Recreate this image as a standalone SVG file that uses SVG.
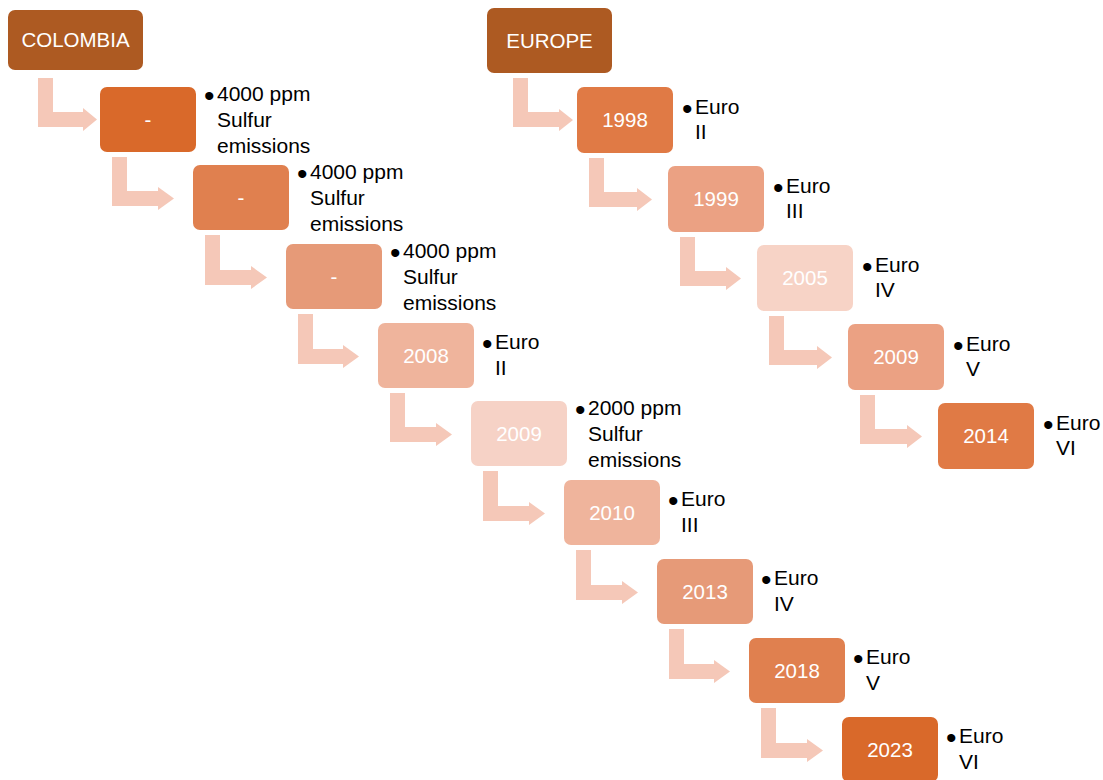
<svg xmlns="http://www.w3.org/2000/svg" width="1103" height="780" viewBox="0 0 1103 780">
<style>
.arr{fill:#F5C8B8}
.bt{font-family:"Liberation Sans",Arial,sans-serif;font-size:20.5px;fill:#FFFFFF;text-anchor:middle}
.st{font-family:"Liberation Sans",Arial,sans-serif;font-size:21px;fill:#000000}
.bu{font-family:"Liberation Sans",Arial,sans-serif;font-size:30px;fill:#000000}
.hd{fill:#AD5A22}
.c1{fill:#D9692A}.c2{fill:#E0804F}.c3{fill:#E69A78}.c4{fill:#EFB49C}.c5{fill:#F6D2C6}
.e1{fill:#E07A45}.e2{fill:#EBA183}.e3{fill:#F7D3C6}
</style>
<rect width="1103" height="780" fill="#FFFFFF"/>
<g id="connectors">
<path class="arr" d="M38,78 H53 V112 H83 V108 L97,119.5 L83,131 V127 H38 Z"/>
<path class="arr" d="M112,157 H127 V191 H158 V187 L174,198.5 L158,210 V206 H112 Z"/>
<path class="arr" d="M205,235 H220 V270 H251 V266 L267,277.5 L251,289 V285 H205 Z"/>
<path class="arr" d="M298,314 H313 V349 H343 V345 L359,356.5 L343,368 V364 H298 Z"/>
<path class="arr" d="M390,393 H405 V427 H436 V423 L452,434.5 L436,446 V442 H390 Z"/>
<path class="arr" d="M483,471 H498 V506 H529 V502 L545,513.5 L529,525 V521 H483 Z"/>
<path class="arr" d="M576,550 H591 V585 H622 V581 L638,592.5 L622,604 V600 H576 Z"/>
<path class="arr" d="M669,629 H684 V664 H714 V660 L730,671.5 L714,683 V679 H669 Z"/>
<path class="arr" d="M761,708 H776 V743 H807 V739 L823,750.5 L807,762 V758 H761 Z"/>
<path class="arr" d="M513,78 H528 V112 H559 V109 L573,120 L559,131 V127 H513 Z"/>
<path class="arr" d="M589,158 H604 V192 H637 V188 L652,199.5 L637,211 V207 H589 Z"/>
<path class="arr" d="M680,237 H695 V271 H726 V267 L741,278.5 L726,290 V286 H680 Z"/>
<path class="arr" d="M769,316 H784 V350 H817 V346 L832,357.5 L817,369 V365 H769 Z"/>
<path class="arr" d="M860,395 H875 V429 H907 V425 L922,436.5 L907,448 V444 H860 Z"/>
</g>
<g id="colombia">
<rect class="hd" x="8" y="10" width="135" height="60" rx="7"/>
<text class="bt" x="75.5" y="47">COLOMBIA</text>
</g>
<g id="c-box1">
<rect class="c1" x="100" y="87" width="96" height="65" rx="7"/>
<text class="bt" x="148" y="126.5">-</text>
<text class="bu" x="204" y="106">•</text>
<text class="st" x="217" y="101">4000 ppm</text>
<text class="st" x="217" y="127">Sulfur</text>
<text class="st" x="217" y="153">emissions</text>
</g>
<g id="c-box2">
<rect class="c2" x="193" y="165" width="96" height="65" rx="7"/>
<text class="bt" x="241" y="204.5">-</text>
<text class="bu" x="297" y="184">•</text>
<text class="st" x="310" y="179">4000 ppm</text>
<text class="st" x="310" y="205">Sulfur</text>
<text class="st" x="310" y="231">emissions</text>
</g>
<g id="c-box3">
<rect class="c3" x="286" y="244" width="96" height="65" rx="7"/>
<text class="bt" x="334" y="283.5">-</text>
<text class="bu" x="390" y="263">•</text>
<text class="st" x="403" y="258">4000 ppm</text>
<text class="st" x="403" y="284">Sulfur</text>
<text class="st" x="403" y="310">emissions</text>
</g>
<g id="c-2008">
<rect class="c4" x="378" y="323" width="96" height="65" rx="7"/>
<text class="bt" x="426" y="362.5">2008</text>
<text class="bu" x="482" y="354">•</text>
<text class="st" x="495" y="349">Euro</text>
<text class="st" x="495" y="375">II</text>
</g>
<g id="c-2009">
<rect class="c5" x="471" y="401" width="96" height="65" rx="7"/>
<text class="bt" x="519" y="440.5">2009</text>
<text class="bu" x="575" y="420">•</text>
<text class="st" x="588" y="415">2000 ppm</text>
<text class="st" x="588" y="441">Sulfur</text>
<text class="st" x="588" y="467">emissions</text>
</g>
<g id="c-2010">
<rect class="c4" x="564" y="480" width="96" height="65" rx="7"/>
<text class="bt" x="612" y="519.5">2010</text>
<text class="bu" x="668" y="511">•</text>
<text class="st" x="681" y="506">Euro</text>
<text class="st" x="681" y="532">III</text>
</g>
<g id="c-2013">
<rect class="c3" x="657" y="559" width="96" height="65" rx="7"/>
<text class="bt" x="705" y="598.5">2013</text>
<text class="bu" x="761" y="590">•</text>
<text class="st" x="774" y="585">Euro</text>
<text class="st" x="774" y="611">IV</text>
</g>
<g id="c-2018">
<rect class="c2" x="749" y="638" width="96" height="65" rx="7"/>
<text class="bt" x="797" y="677.5">2018</text>
<text class="bu" x="853" y="669">•</text>
<text class="st" x="866" y="664">Euro</text>
<text class="st" x="866" y="690">V</text>
</g>
<g id="c-2023">
<rect class="c1" x="842" y="717" width="96" height="65" rx="7"/>
<text class="bt" x="890" y="756.5">2023</text>
<text class="bu" x="946" y="748">•</text>
<text class="st" x="959" y="743">Euro</text>
<text class="st" x="959" y="769">VI</text>
</g>
<g id="europe">
<rect class="hd" x="487" y="8" width="125" height="65" rx="7"/>
<text class="bt" x="549.5" y="47.5">EUROPE</text>
</g>
<g id="e-1998">
<rect class="e1" x="577" y="87" width="96" height="66" rx="7"/>
<text class="bt" x="625" y="127">1998</text>
<text class="bu" x="682" y="119">•</text>
<text class="st" x="695" y="114">Euro</text>
<text class="st" x="695" y="139">II</text>
</g>
<g id="e-1999">
<rect class="e2" x="668" y="166" width="96" height="66" rx="7"/>
<text class="bt" x="716" y="206">1999</text>
<text class="bu" x="773" y="198">•</text>
<text class="st" x="786" y="193">Euro</text>
<text class="st" x="786" y="218">III</text>
</g>
<g id="e-2005">
<rect class="e3" x="757" y="245" width="96" height="66" rx="7"/>
<text class="bt" x="805" y="285">2005</text>
<text class="bu" x="862" y="277">•</text>
<text class="st" x="875" y="272">Euro</text>
<text class="st" x="875" y="297">IV</text>
</g>
<g id="e-2009">
<rect class="e2" x="848" y="324" width="96" height="66" rx="7"/>
<text class="bt" x="896" y="364">2009</text>
<text class="bu" x="953" y="356">•</text>
<text class="st" x="966" y="351">Euro</text>
<text class="st" x="966" y="376">V</text>
</g>
<g id="e-2014">
<rect class="e1" x="938" y="403" width="96" height="66" rx="7"/>
<text class="bt" x="986" y="443">2014</text>
<text class="bu" x="1043" y="435">•</text>
<text class="st" x="1056" y="430">Euro</text>
<text class="st" x="1056" y="455">VI</text>
</g>
</svg>
